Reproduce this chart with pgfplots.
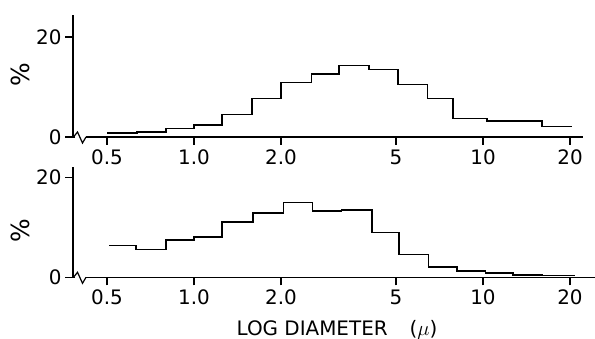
\documentclass[border=0pt]{standalone}
\usepackage{fontspec}
\setmainfont{DejaVu Sans}
\usepackage{pgfplots}
\pgfplotsset{compat=1.18}
\begin{document}
\begin{tikzpicture}
\useasboundingbox (0bp,0bp) rectangle (595bp,339bp);
\begin{axis}[scale only axis, xmode=log,
    axis x line=bottom, axis y line=left,
    axis line style={-, line width=1.5bp},
    ymin=0,
    xtick={0.5,1,2,5,10,20},
    xticklabels={0.5,1.0,2.0,5,10,20},
    ytick={0,20},
    yticklabels={0,20},
    minor xtick={},
    tick style={line width=1.2bp, black},
    major tick length=8bp,
    tick align=outside,
    tick label style={font=\fontsize{20}{23}\selectfont},
    xticklabel style={yshift=-1bp},
    clip=false,
  at={(73bp,202bp)}, anchor=south west,
  width=510bp, height=122bp, xmin=0.3814, xmax=22.18, ymax=24.4]
\addplot[const plot, line width=1.6bp] coordinates {
(0.5,0.8)(0.635,1.0)(0.80,1.7)(1.0,2.4)(1.25,4.5)(1.59,7.7)(2.0,10.9)(2.55,12.6)(3.18,14.3)(4.04,13.5)(5.09,10.5)(6.42,7.7)(7.89,3.7)(10.3,3.2)(16.0,2.1)(20.3,2.1)};
\end{axis}
\begin{axis}[scale only axis, xmode=log,
    axis x line=bottom, axis y line=left,
    axis line style={-, line width=1.5bp},
    ymin=0,
    xtick={0.5,1,2,5,10,20},
    xticklabels={0.5,1.0,2.0,5,10,20},
    ytick={0,20},
    yticklabels={0,20},
    minor xtick={},
    tick style={line width=1.2bp, black},
    major tick length=8bp,
    tick align=outside,
    tick label style={font=\fontsize{20}{23}\selectfont},
    xticklabel style={yshift=-1bp},
    clip=false,
  at={(73bp,61.7bp)}, anchor=south west,
  width=522bp, height=110bp, xmin=0.3814, xmax=24.41, ymax=22]
\addplot[const plot, line width=1.6bp] coordinates {
(0.51,6.4)(0.63,5.6)(0.80,7.5)(1.0,8.1)(1.25,11.1)(1.6,12.9)(2.04,15.0)(2.57,13.3)(3.24,13.5)(4.12,9.0)(5.13,4.6)(6.47,2.1)(8.11,1.3)(10.2,0.9)(12.7,0.5)(16.0,0.4)(20.8,0.4)};
\end{axis}
% axis breaks
\foreach \yy in {202,61.7}{
  \draw[white, line width=2.5bp] (74.8bp,\yy bp) -- (85.5bp,\yy bp);
  \draw[line width=1.2bp] (73.5bp,\yy bp) -- ++(4bp,5bp) -- ++(5bp,-11bp) -- ++(3.5bp,6bp);
}
\node[rotate=90, font=\fontsize{25}{28}\selectfont] at (20bp,264bp) {\%};
\node[rotate=90, font=\fontsize{25}{28}\selectfont] at (20bp,108bp) {\%};
\node[font=\fontsize{20}{23}\selectfont] at (337bp,9bp) {LOG DIAMETER\hspace{22bp}($\mu$)};
\end{tikzpicture}
\end{document}
